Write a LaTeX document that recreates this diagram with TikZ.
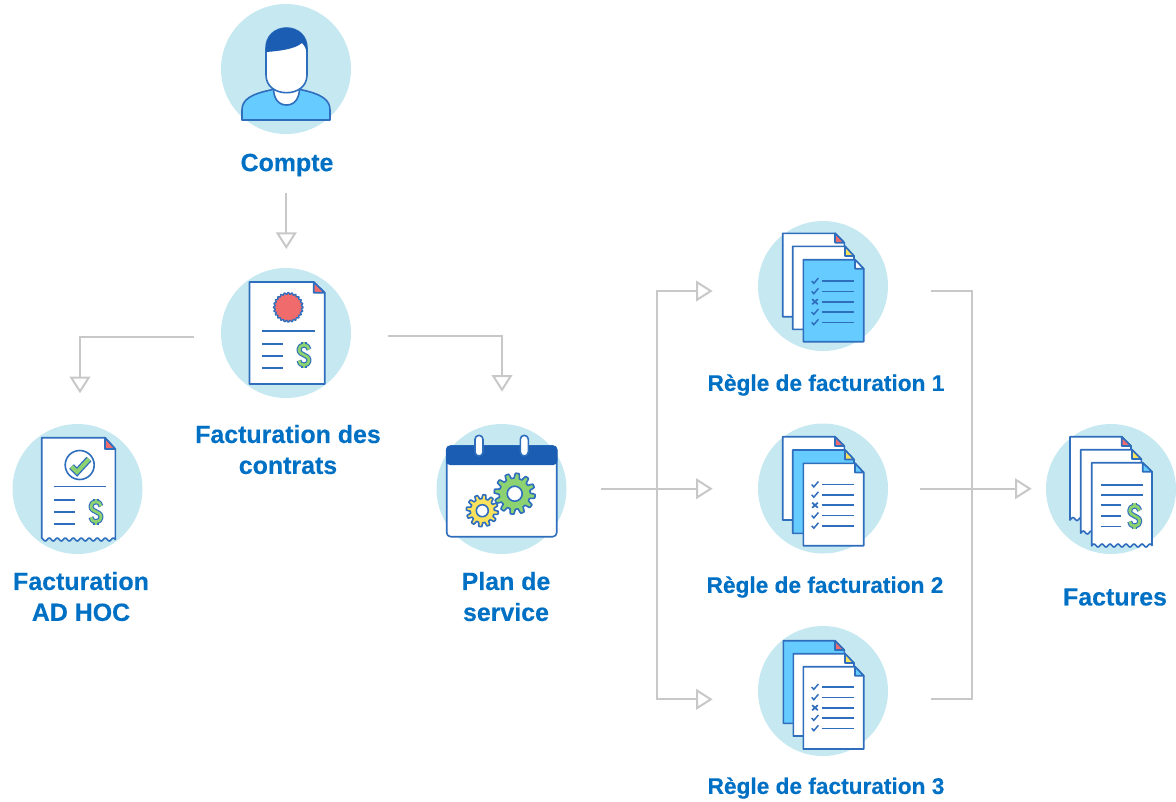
\documentclass[tikz,border=0pt]{standalone}
\usepackage{fontspec}
\setmainfont[BoldFeatures={FakeBold=0.35}]{Liberation Sans}
\usetikzlibrary{arrows.meta}
\definecolor{disc}{HTML}{C5E8F1}
\definecolor{ink}{HTML}{2F6DBD}
\definecolor{darkblue}{HTML}{1A5DB2}
\definecolor{sky}{HTML}{66CCFF}
\definecolor{rose}{HTML}{F06C6C}
\definecolor{leaf}{HTML}{8CD270}
\definecolor{sun}{HTML}{FBE25C}
\definecolor{label}{HTML}{0070C4}
\definecolor{conn}{HTML}{C8C8C8}
\tikzset{
  discnode/.style={circle,fill=disc,draw=none,minimum size=97.5pt,inner sep=0pt,outer sep=0pt},
  iconline/.style={draw=ink,line width=1.2pt,line join=round},
  thinline/.style={draw=ink,line width=1.2pt},
  biglabel/.style={text=label,align=center,font=\bfseries\fontsize{18.7}{23.2}\selectfont,inner sep=0pt},
  rulelabel/.style={text=label,align=center,font=\bfseries\fontsize{17}{20}\selectfont,inner sep=0pt},
  connector/.style={draw=conn,line width=1.5pt,line join=miter},
  arrowed/.style={connector,-{Triangle[open,length=12.5pt,width=15.5pt,line width=1.5pt]}},
}
\newcommand{\docpage}[8]{%
  \draw[iconline,fill=#7] (#1,#2) -- (#5,#2) -- (#3,#6) -- (#3,#4) -- (#1,#4) -- cycle;
  \draw[iconline,fill=#8] (#5,#2) -- (#5,#6) -- (#3,#6) -- cycle;}
\newcommand{\receiptpage}[7]{%
  \draw[iconline,fill=white] (#1,#2) -- (#5,#2) -- (#3,#6) -- (#3,#4)
    -- plot[domain=#3:#1,samples=90] (\x,{#4+1.5*sin((\x-#3)*45)}) -- cycle;
  \draw[iconline,fill=#7] (#5,#2) -- (#5,#6) -- (#3,#6) -- cycle;}
\newcommand{\dollarpath}[2]{%
  \begin{scope}[shift={(#1,#2)}]
    \foreach \col/\wid in {ink/3.8pt,leaf/2.1pt}{
      \draw[\col,line width=\wid,line cap=butt,line join=round]
        (5,-5.5) .. controls (5,-8.5) and (2,-10) .. (0,-10)
        .. controls (-3,-10) and (-5,-8) .. (-5,-5.5)
        .. controls (-5,-2) and (-2,-1) .. (0,0)
        .. controls (2,1) and (5,2) .. (5,5.5)
        .. controls (5,8) and (3,10) .. (0,10)
        .. controls (-3,10) and (-5,8.5) .. (-5,5.5);
      \draw[\col,line width=\wid] (0,-13) -- (0,-9);
      \draw[\col,line width=\wid] (0,13) -- (0,9);
    }
  \end{scope}}
\newcommand{\gearicon}[7]{%
  \begin{scope}[shift={(#1,#2)}]
    \draw[iconline,fill=#7] plot[domain=0:360,samples=181,smooth]
      (\x:{(#3+#4)/2+(#3-#4)/2*max(-1,min(1,2.2*sin(#6*\x)))}) -- cycle;
    \draw[iconline,fill=white] (0,0) circle (#5);
  \end{scope}}
\newcommand{\tickmark}[1]{\draw[ink,line width=1.1pt] (811.7,#1) -- (813.8,#1+2.4) -- (818.4,#1-3);}
\newcommand{\crossmark}[1]{\draw[ink,line width=1.3pt] (812.2,#1-2.5) -- (817.8,#1+2.5) (817.8,#1-2.5) -- (812.2,#1+2.5);}
\newcommand{\listrow}[1]{\draw[thinline] (822,#1) -- (854.3,#1);}
\newcommand{\checklist}[1]{%
  \begin{scope}[yshift=#1*-0.75pt]
    \tickmark{281}\tickmark{291.3}\crossmark{301.7}\tickmark{312}\tickmark{322.3}
    \listrow{281}\listrow{291.3}\listrow{301.7}\listrow{312}\listrow{322.3}
  \end{scope}}
\begin{document}
\begin{tikzpicture}[x=0.75pt,y=-0.75pt]
\useasboundingbox (0,0) rectangle (1176,801);
% discs
\node[discnode] (compte) at (286,69) {};
\node[discnode] (contrats) at (286,333) {};
\node[discnode] (adhoc) at (77.5,489) {};
\node[discnode] (plan) at (501.5,489) {};
\node[discnode] (regleA) at (823,286) {};
\node[discnode] (regleB) at (823,488.5) {};
\node[discnode] (regleC) at (823,691) {};
\node[discnode] (factures) at (1111,489) {};
% person
\draw[iconline,fill=sky] (242,120) -- (242,110) .. controls (242,100) and (250,94) .. (273,89.5) -- (300,89.5) .. controls (322,94) and (330,100) .. (330,110) -- (330,120) -- cycle;
\draw[iconline,fill=white] (273.5,88) .. controls (273.5,98) and (278,105) .. (286.5,105) .. controls (295,105) and (299.5,98) .. (299.5,88) -- cycle;
\draw[iconline,fill=white] (266,48) -- (266,75) .. controls (266,86) and (275,92.7) .. (286.5,92.7) .. controls (298,92.7) and (307,86) .. (307,75) -- (307,48) .. controls (307,36) and (298,28) .. (286.5,28) .. controls (275,28) and (266,36) .. (266,48) -- cycle;
\fill[darkblue] (266,52) -- (266,48) .. controls (266,36) and (275,28) .. (286.5,28) .. controls (298,28) and (307,36) .. (307,48) -- (307,53) .. controls (306,49) and (305,46) .. (302,43) .. controls (295,49) and (280,51) .. (266,52) -- cycle;
% contract
\docpage{249.5}{282}{324.7}{384}{313.7}{292.7}{white}{rose}
\draw[iconline,fill=rose,line width=1pt] plot[domain=0:360,samples=145,smooth] ([shift={(288.3,307.3)}]\x:{14+0.9*cos(24*\x)}) -- cycle;
\draw[thinline] (262.3,331) -- (314.7,331);
\foreach \yy in {344,356,368}{\draw[thinline] (262.3,\yy) -- (283,\yy);}
\dollarpath{304}{355}
% ad hoc
\receiptpage{41.7}{437.7}{115.3}{539.5}{105}{449}{rose}
\draw[iconline,fill=white] (79.7,465) circle (14.5);
\draw[ink,line width=5pt,line join=miter] (71.5,466.5) -- (77,472) -- (89,459);
\draw[leaf,line width=3pt,line join=miter] (71.5,466.5) -- (77,472) -- (89,459);
\draw[thinline] (53.7,486.3) -- (106,486.3);
\foreach \yy in {499.7,511.7,523.7}{\draw[thinline] (53.7,\yy) -- (74.7,\yy);}
\dollarpath{96}{511.7}
% calendar
\draw[iconline,fill=white,rounded corners=3pt] (446.7,446) rectangle (556.7,536.7);
\fill[darkblue,rounded corners=3pt] (446,465) -- (446,445.5) -- (557.3,445.5) -- (557.3,465) -- cycle;
\draw[iconline,fill=white,rounded corners=3pt] (475,435.3) rectangle (483,456);
\draw[iconline,fill=white,rounded corners=3pt] (520.3,435.3) rectangle (528.3,456);
\gearicon{514.7}{493.7}{20.5}{15.5}{7.5}{12}{leaf}
\gearicon{482.3}{510.7}{16}{12}{6}{12}{sun}
% rule 1
\docpage{782.7}{233.3}{844.3}{316.7}{835}{242.7}{white}{rose}
\docpage{792.7}{246.3}{854}{329.3}{845}{256}{white}{sun}
\docpage{803.3}{259.7}{863.7}{341.7}{855}{268.7}{sky}{white}
\checklist{0}
% rule 2
\docpage{782.7}{436.7}{844.3}{520}{835}{446}{white}{rose}
\docpage{792.7}{450}{854}{533.3}{845}{459.5}{sky}{sun}
\docpage{803.3}{463.3}{863.7}{545.7}{855}{472.5}{white}{sky}
\checklist{203.5}
% rule 3
\docpage{783.3}{640.7}{844.3}{723.3}{835}{650}{sky}{rose}
\docpage{793.3}{653.7}{854}{736}{845}{663}{white}{sun}
\docpage{803.3}{666.7}{863.7}{749}{855}{675.7}{white}{sky}
\checklist{406}
% invoices
\receiptpage{1070}{436.7}{1131}{519}{1121.7}{446}{rose}
\receiptpage{1080.7}{449.7}{1141.3}{532.5}{1132}{459}{sun}
\receiptpage{1091.7}{462.7}{1152}{545.5}{1142.7}{471.7}{sky}
\draw[thinline] (1101,485) -- (1143,485) (1101,494.7) -- (1143,494.7);
\foreach \yy in {505,515.7,526.3}{\draw[thinline] (1101,\yy) -- (1121,\yy);}
\dollarpath{1134.7}{516}
% labels
\node[biglabel] (tCompte) at (287,165) {Compte};
\node[biglabel] (tContrats) at (288,449.5) {Facturation des\\contrats};
\node[biglabel] (tAdhoc) at (81,596.5) {Facturation\\AD HOC};
\node[biglabel] (tPlan) at (506,596.5) {Plan de\\service};
\node[rulelabel] (tA) at (826,385) {Règle de facturation 1};
\node[rulelabel] (tB) at (825,587) {Règle de facturation 2};
\node[rulelabel] (tC) at (826,788) {Règle de facturation 3};
\node[biglabel] (tFactures) at (1115,597) {Factures};
% connector ends
\coordinate (cTopFrom) at (286.3,192.7);
\coordinate (cTopTo) at (286.3,249);
\coordinate (cLeftFrom) at (194.3,337.3);
\coordinate (cLeftBend) at (80,337.3);
\coordinate (cLeftTo) at (80,393.3);
\coordinate (cRightFrom) at (387.7,335.7);
\coordinate (cRightBend) at (502,335.7);
\coordinate (cRightTo) at (502,391.7);
\coordinate (cPlanFrom) at (601,488.7);
\coordinate (cFork) at (656.7,488.7);
\coordinate (cForkTop) at (656.7,291);
\coordinate (cForkBot) at (656.7,699.3);
\coordinate (cToA) at (712.7,291);
\coordinate (cToB) at (712.7,488.7);
\coordinate (cToC) at (712.7,699.3);
\coordinate (cFromA) at (930.7,291);
\coordinate (cFromB) at (920,488.7);
\coordinate (cFromC) at (930.7,699.3);
\coordinate (cJoinTop) at (972,291);
\coordinate (cJoinBot) at (972,699.3);
\coordinate (cToFact) at (1031.7,488.7);
% connectors
\draw[arrowed] (cTopFrom) -- (cTopTo);
\draw[arrowed] (cLeftFrom) -- (cLeftBend) -- (cLeftTo);
\draw[arrowed] (cRightFrom) -- (cRightBend) -- (cRightTo);
\draw[arrowed] (cPlanFrom) -- (cToB);
\draw[arrowed] (cFork) -- (cForkTop) -- (cToA);
\draw[arrowed] (cFork) -- (cForkBot) -- (cToC);
\draw[connector] (cFromA) -- (cJoinTop) -- (cJoinBot) -- (cFromC);
\draw[arrowed] (cFromB) -- (cToFact);
\end{tikzpicture}
\end{document}
